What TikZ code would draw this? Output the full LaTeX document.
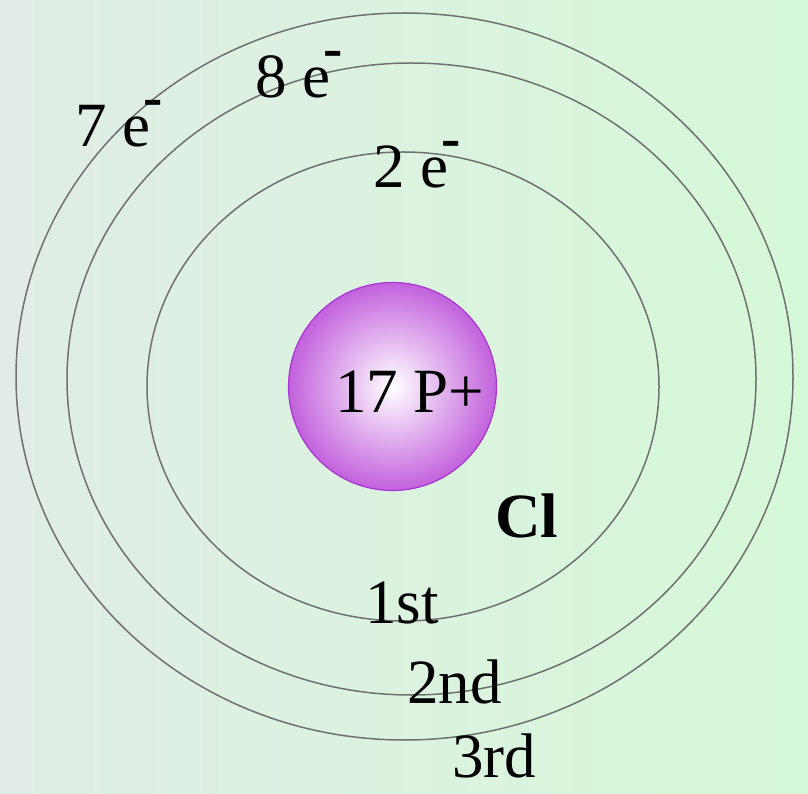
\documentclass[tikz,border=0pt]{standalone}
\usepackage{fontspec}
\setmainfont{Liberation Serif}
\definecolor{bgL}{HTML}{E1ECE6}
\definecolor{bgR}{HTML}{D5F9D8}
\definecolor{orb}{HTML}{707070}
\definecolor{nucO}{HTML}{C262DC}
\definecolor{nucB}{HTML}{A834D4}
\newcommand{\eminus}{e\kern-7pt\raisebox{30pt}{\fontsize{58}{58}\selectfont\bfseries -}}
\begin{document}
\begin{tikzpicture}[x=1pt,y=1pt,
  orbit/.style={draw=orb,line width=1.5pt},
  lbl/.style={anchor=base west,inner sep=0pt,font=\fontsize{63}{63}\selectfont}]
\useasboundingbox (0,0) rectangle (808,793);
\shade[left color=bgL,right color=bgR] (0,0) rectangle (808,793);
\draw[orbit] (404.5,416.5) ellipse [x radius=388.5,y radius=363.5];
\draw[orbit] (411.5,414) ellipse [x radius=344.5,y radius=316];
\draw[orbit] (403,406.5) ellipse [x radius=256,y radius=234.5];
\shade[inner color=white,outer color=nucO] (392.5,406.5) circle (104);
\draw[nucB,line width=1.2pt] (392.5,406.5) circle (104) node (nuc) {};
\node[lbl] (e7) at (75,646) {7 \eminus};
\node[lbl] (e8) at (255,695) {8 \eminus};
\node[lbl] (e2) at (373,605) {2 \eminus};
\node[lbl] (p17) at (335,380) {17 P+};
\node[lbl,font=\fontsize{63}{63}\selectfont\bfseries] (cl) at (495,255) {Cl};
\node[lbl] (s1) at (365,170) {1st};
\node[lbl] (s2) at (407,90) {2nd};
\node[lbl] (s3) at (452,16) {3rd};
\end{tikzpicture}
\end{document}
